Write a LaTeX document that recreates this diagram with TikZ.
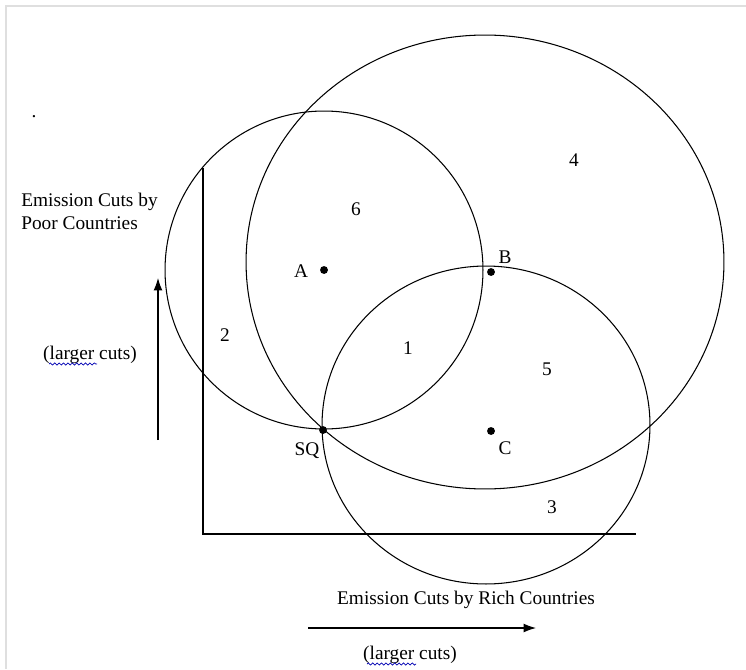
\documentclass[tikz,border=0pt]{standalone}
\usepackage{fontspec}
\setmainfont{Liberation Serif}
\usetikzlibrary{arrows.meta,decorations.pathmorphing}

\begin{document}
\begin{tikzpicture}[x=0.02cm,y=-0.02cm,line width=0.6pt,
    lbl/.style={font=\fontsize{11}{13}\selectfont,inner sep=1pt},
    dot/.style={circle,fill=black,inner sep=0pt,minimum size=4.5pt},
    axis/.style={line width=0.6pt},
    dir/.style={-{Latex[length=7pt,width=5pt]}},
    squiggle/.style={blue!70!black,line width=0.4pt,decorate,
      decoration={snake,amplitude=0.6pt,segment length=2.5pt}}]

      \useasboundingbox (0,0) rectangle (746,669);
      \draw[gray!25,line width=0.8pt] (746,6) -- (6,6) -- (6,669);

      % points
      \begin{scope}[every node/.style={dot}]
        \node (A)  at (324,270) {};
        \node (B)  at (491,272) {};
        \node (SQ) at (323,430) {};
        \node (C)  at (491,431) {};
      \end{scope}

      % indifference circles
      \draw (A) circle (3.18cm);
      \draw (485,262) ellipse [x radius=4.78cm, y radius=4.54cm];
      \draw (486,425) ellipse [x radius=3.28cm, y radius=3.18cm];

      % axes
      \coordinate (o)  at (203,534);
      \coordinate (ytop) at (203,168);
      \coordinate (xend) at (636,534);
      \draw[axis] (ytop) -- (o) -- (xend);

      \coordinate (up0) at (158,440);
      \coordinate (up1) at (158,278);
      \coordinate (rt0) at (308,628);
      \coordinate (rt1) at (536,628);
      \draw[dir] (up0) -- (up1);
      \draw[dir] (rt0) -- (rt1);

      % labels
      \begin{scope}[every node/.style={lbl}]
        \node (dotmark) at (34,117) {.};
        \node[anchor=west,align=left] (ylab) at (19,211)
          {Emission Cuts by\\Poor Countries};
        \node (ymore) at (90,355) {(larger cuts)};
        \node (xlab) at (466,600) {Emission Cuts by Rich Countries};
        \node (xmore) at (410,655) {(larger cuts)};

        \node (r1) at (408,348) {1};
        \node (r2) at (225,335) {2};
        \node (r3) at (552,507) {3};
        \node (r4) at (574,160) {4};
        \node (r5) at (547,369) {5};
        \node (r6) at (356,209) {6};

        \node (lA)  at (301,271) {A};
        \node (lB)  at (505,257) {B};
        \node (lSQ) at (307,451) {SQ};
        \node (lC)  at (505,448) {C};
      \end{scope}

      \draw[squiggle] (49,364) -- (97,364);
      \draw[squiggle] (367,664) -- (416,664);

    \end{tikzpicture}
\end{document}
